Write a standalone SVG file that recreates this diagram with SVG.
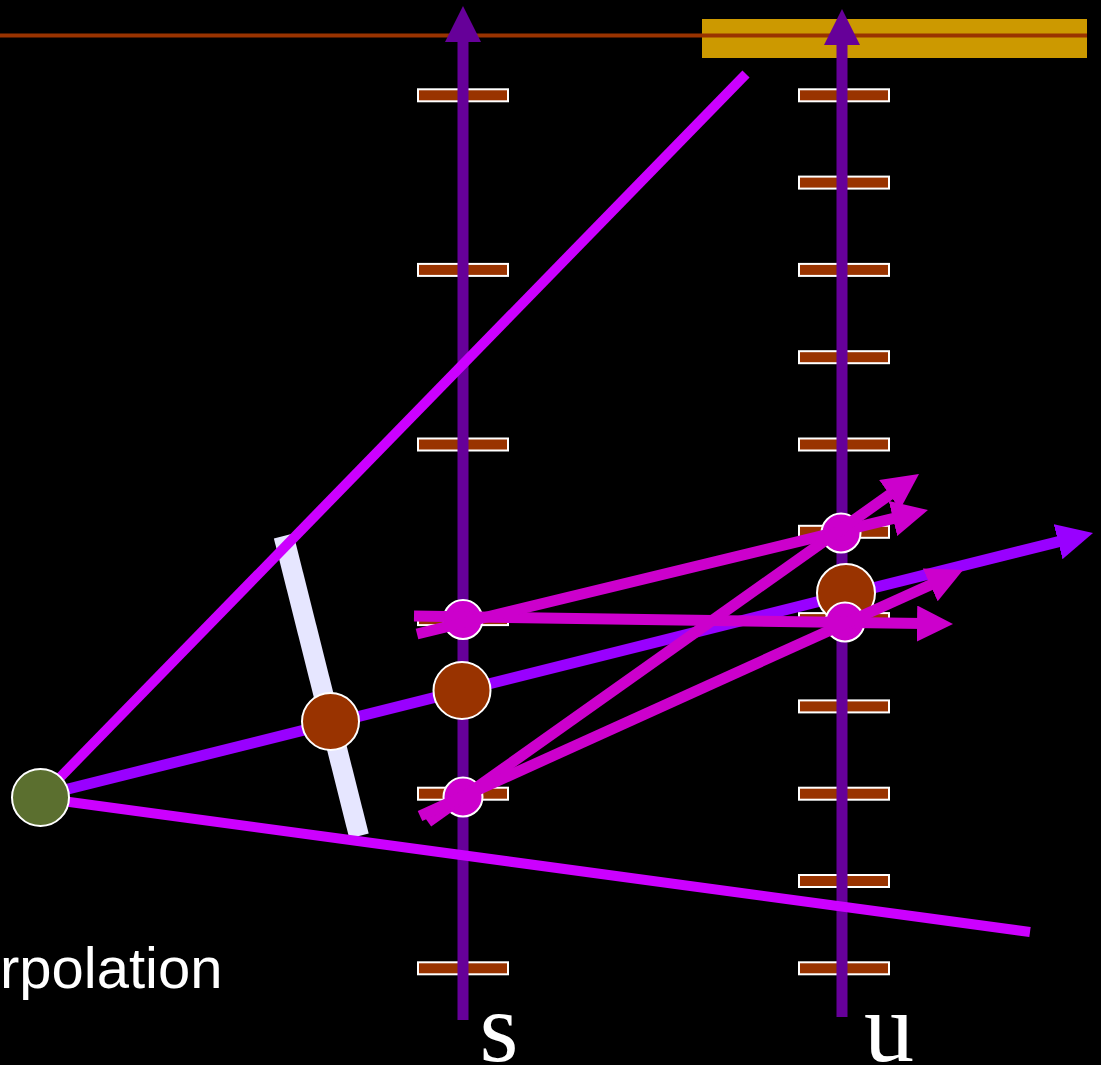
<svg xmlns="http://www.w3.org/2000/svg" width="1101" height="1065" viewBox="0 0 1101 1065">
  <style>
    .tick { fill: #993300; stroke: #FFFFFF; stroke-width: 2; }
    .axis { stroke: #660099; stroke-width: 11; fill: none; }
    .fan { stroke: #CC00FF; stroke-width: 10; fill: none; }
    .ray { stroke: #9900FF; stroke-width: 11; fill: none; }
    .arr { stroke: #CC00CC; stroke-width: 11; fill: none; }
    .perp { stroke: #E6E6FF; stroke-width: 20; fill: none; }
    .node { stroke: #FFFFFF; stroke-width: 2; }
    .brown { fill: #993300; }
    .mag { fill: #CC00CC; }
    .green { fill: #5B6F2F; }
    .lbl { fill: #FFFFFF; font-family: "Liberation Serif", "Times New Roman", serif; font-size: 100px; text-anchor: middle; }
    .side { fill: #FFFFFF; font-family: "Liberation Sans", Arial, sans-serif; font-size: 58px; }
  </style>
  <defs>
    <marker id="hAxis" markerUnits="userSpaceOnUse" markerWidth="36" markerHeight="36" refX="6" refY="18" orient="auto">
      <path d="M0,0 L36,18 L0,36 Z" fill="#660099"/>
    </marker>
    <marker id="hRay" markerUnits="userSpaceOnUse" markerWidth="36" markerHeight="36" refX="6" refY="18" orient="auto">
      <path d="M0,0 L36,18 L0,36 Z" fill="#9900FF"/>
    </marker>
    <marker id="hMag" markerUnits="userSpaceOnUse" markerWidth="36" markerHeight="36" refX="6" refY="18" orient="auto">
      <path d="M0,0 L36,18 L0,36 Z" fill="#CC00CC"/>
    </marker>
  </defs>

  <rect x="0" y="0" width="1101" height="1065" fill="#000000"/>

  <g id="top-band">
    <rect x="702" y="19" width="385" height="39" fill="#CC9900"/>
    <line x1="0" y1="35.5" x2="1087" y2="35.5" stroke="#993300" stroke-width="4"/>
  </g>

  <g id="ticks-s">
    <rect class="tick" x="418" y="89.3" width="90" height="12"/>
    <rect class="tick" x="418" y="263.9" width="90" height="12"/>
    <rect class="tick" x="418" y="438.5" width="90" height="12"/>
    <rect class="tick" x="418" y="613.1" width="90" height="12"/>
    <rect class="tick" x="418" y="787.7" width="90" height="12"/>
    <rect class="tick" x="418" y="962.3" width="90" height="12"/>
  </g>
  <g id="ticks-u">
    <rect class="tick" x="799" y="89.3" width="90" height="12"/>
    <rect class="tick" x="799" y="176.6" width="90" height="12"/>
    <rect class="tick" x="799" y="263.9" width="90" height="12"/>
    <rect class="tick" x="799" y="351.2" width="90" height="12"/>
    <rect class="tick" x="799" y="438.5" width="90" height="12"/>
    <rect class="tick" x="799" y="525.8" width="90" height="12"/>
    <rect class="tick" x="799" y="613.1" width="90" height="12"/>
    <rect class="tick" x="799" y="700.4" width="90" height="12"/>
    <rect class="tick" x="799" y="787.7" width="90" height="12"/>
    <rect class="tick" x="799" y="875" width="90" height="12"/>
    <rect class="tick" x="799" y="962.3" width="90" height="12"/>
  </g>

  <g id="axes">
    <line id="axis-s" class="axis" x1="463" y1="1020" x2="463" y2="36" marker-end="url(#hAxis)"/>
    <line id="axis-u" class="axis" x1="842" y1="1017" x2="842" y2="39" marker-end="url(#hAxis)"/>
  </g>

  <g id="connectors">
    <line id="perp" class="perp" x1="283.6" y1="536" x2="359" y2="836"/>
    <line id="fan-upper" class="fan" x1="40" y1="798" x2="746" y2="74"/>
    <line id="fan-lower" class="fan" x1="40" y1="798" x2="1030" y2="932"/>
    <line id="ray" class="ray" x1="40" y1="796" x2="1063.9" y2="540.3" marker-end="url(#hRay)"/>
  </g>

  <g id="node-eye"><circle class="node green" cx="40.5" cy="797.5" r="28.5"/></g>
  <g id="node-p"><circle class="node brown" cx="330.5" cy="721.5" r="28.5"/></g>
  <g id="node-s"><circle class="node brown" cx="462" cy="690.5" r="28.5"/></g>
  <g id="node-u"><circle class="node brown" cx="846" cy="593" r="29"/></g>
  <g id="node-s-top"><circle class="node mag" cx="463" cy="619.5" r="19.5"/></g>
  <g id="node-s-bottom"><circle class="node mag" cx="463" cy="797" r="19.5"/></g>
  <g id="node-u-top"><circle class="node mag" cx="841" cy="533" r="19.5"/></g>
  <g id="node-u-bottom"><circle class="node mag" cx="845" cy="622" r="19.5"/></g>

  <g id="connectors-magenta">
    <line class="arr" x1="414" y1="616" x2="923" y2="623.6" marker-end="url(#hMag)"/>
    <line class="arr" x1="417" y1="634" x2="898.8" y2="517.1" marker-end="url(#hMag)"/>
    <line class="arr" x1="428" y1="822" x2="894.5" y2="491.3" marker-end="url(#hMag)"/>
    <line class="arr" x1="420" y1="816" x2="935.7" y2="582.4" marker-end="url(#hMag)"/>
  </g>

  <g id="labels">
    <text class="side" x="0" y="988">rpolation</text>
    <text class="lbl" x="499" y="1061">s</text>
    <text class="lbl" x="889" y="1061">u</text>
  </g>
</svg>
